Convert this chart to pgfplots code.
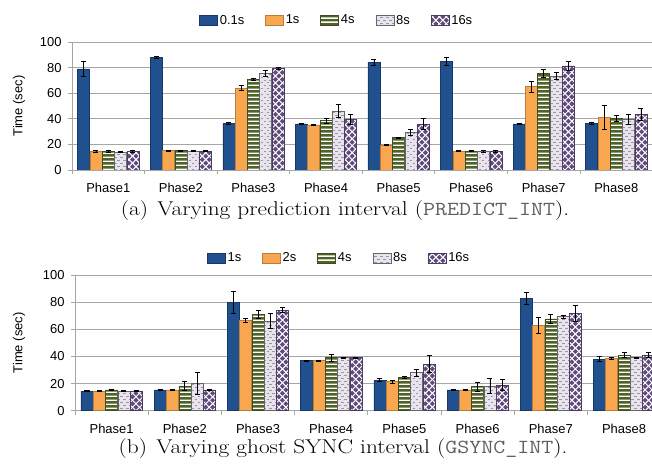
\documentclass[border=0pt]{standalone}
\usepackage{fontspec}
\usepackage{pgfplots}
\pgfplotsset{compat=1.18}
\usetikzlibrary{patterns}
\newfontfamily\arial{Liberation Sans}

\definecolor{cblue}{HTML}{21508F}
\definecolor{corange}{HTML}{F9A650}
\definecolor{cgreen}{HTML}{4F6228}
\definecolor{clav}{HTML}{E8E3EF}
\definecolor{cpurple}{HTML}{5F4A7B}
\definecolor{cgrid}{HTML}{A6A6A6}

\pgfdeclarepatternformonly{hstripes}{\pgfqpoint{0pt}{0pt}}{\pgfqpoint{10pt}{3.8pt}}{\pgfqpoint{10pt}{3.8pt}}{%
  \pgfsetlinewidth{1.3pt}\pgfpathmoveto{\pgfqpoint{0pt}{1.9pt}}\pgfpathlineto{\pgfqpoint{10pt}{1.9pt}}\pgfusepath{stroke}}
\pgfdeclarepatternformonly{diamonds}{\pgfqpoint{-1pt}{-1pt}}{\pgfqpoint{8pt}{8pt}}{\pgfqpoint{7pt}{7pt}}{%
  \pgfsetlinewidth{1pt}\pgfpathmoveto{\pgfqpoint{0pt}{0pt}}\pgfpathlineto{\pgfqpoint{7pt}{7pt}}%
  \pgfpathmoveto{\pgfqpoint{0pt}{7pt}}\pgfpathlineto{\pgfqpoint{7pt}{0pt}}\pgfusepath{stroke}}
\pgfdeclarepatternformonly{hdashes}{\pgfqpoint{-1pt}{-1pt}}{\pgfqpoint{7pt}{7pt}}{\pgfqpoint{6pt}{6pt}}{%
  \pgfsetlinewidth{0.9pt}\pgfpathmoveto{\pgfqpoint{0.5pt}{1.5pt}}\pgfpathlineto{\pgfqpoint{3pt}{1.5pt}}%
  \pgfpathmoveto{\pgfqpoint{3.5pt}{4.5pt}}\pgfpathlineto{\pgfqpoint{6pt}{4.5pt}}\pgfusepath{stroke}}

\pgfplotsset{
  mybase/.style={
    scale only axis, ybar=0.3bp, bar width=12bp,
    xmin=-0.5, xmax=7.5, ymin=0, ymax=100,
    ytick={0,20,...,100}, xtick={0,...,7},
    xticklabels={Phase1,Phase2,Phase3,Phase4,Phase5,Phase6,Phase7,Phase8},
    minor xtick={-0.5,0.5,...,7.5},
    axis x line*=bottom, axis y line*=left,
    axis line style={cgrid, line width=0.8bp},
    ymajorgrids, major grid style={cgrid, line width=0.8bp},
    tick align=outside, major tick length=4bp, minor tick length=4bp,
    major x tick style={draw=none}, minor x tick style={cgrid, line width=0.8bp},
    major y tick style={cgrid, line width=0.8bp},
    font=\arial\fontsize{13}{15}\selectfont,
    /pgf/number format/assume math mode=true,
    xticklabel style={yshift=-6bp},
    yticklabel style={xshift=-3bp},
    ylabel={Time (sec)},
    legend columns=5,
    legend style={draw=none, fill=none, anchor=center, font=\arial\fontsize{13}{15}\selectfont,
      /tikz/every even column/.append style={column sep=19bp}, nodes={inner sep=2bp}},
    legend image code/.code={\draw[##1] (0bp,-5bp) rectangle (18bp,5bp);},
    error bars/y dir=both, error bars/y explicit,
    error bars/error bar style={black, line width=0.8bp},
    error bars/error mark options={black, rotate=90, mark size=2.5bp, line width=0.8bp},
  },
  s1/.style={fill=cblue, draw=cblue!70!black, line width=0.5bp},
  s2/.style={fill=corange, draw=corange!75!black, line width=0.5bp},
  s3/.style={fill=cgreen, draw=cgreen!80!black, line width=0.5bp, postaction={pattern=hstripes, pattern color=white}},
  s4/.style={fill=clav, draw=gray!80!black, line width=0.5bp, postaction={pattern=hdashes, pattern color=gray!80}},
  s5/.style={fill=cpurple, draw=cpurple!80!black, line width=0.5bp, postaction={pattern=diamonds, pattern color=white}},
}

\begin{document}
\begin{tikzpicture}
% ---------- (a) ----------
\begin{axis}[mybase, at={(72bp,300bp)}, anchor=south west, width=580.6bp, height=128bp,
  ylabel style={at={(axis description cs:-0.0913,0.5)}, anchor=center},
  legend style={at={(axis description cs:0.456,1.17)}}]
\addplot[s1] coordinates {(0,79) +- (0,6) (1,88) +- (0,1) (2,36.5) +- (0,0.5) (3,36) +- (0,0.5)
  (4,84) +- (0,2.5) (5,84.6) +- (0,3) (6,36) +- (0,0.5) (7,36.5) +- (0,0.5)};
\addplot[s2] coordinates {(0,14.5) +- (0,0.5) (1,15.1) +- (0,0.5) (2,63.8) +- (0,2) (3,35.2) +- (0,0.5)
  (4,19.5) +- (0,0.5) (5,14.8) +- (0,0.5) (6,65.1) +- (0,4.3) (7,40.9) +- (0,9.5)};
\addplot[s3] coordinates {(0,14.5) +- (0,0.5) (1,15.1) +- (0,0.5) (2,70.8) +- (0,0.8) (3,38.5) +- (0,2)
  (4,25.3) +- (0,0.5) (5,14.8) +- (0,0.5) (6,75.5) +- (0,3) (7,40.1) +- (0,2.5)};
\addplot[s4] coordinates {(0,14) +- (0,0.5) (1,14.8) +- (0,0.5) (2,75.5) +- (0,2.5) (3,46.1) +- (0,5)
  (4,29.4) +- (0,2) (5,14.5) +- (0,0.5) (6,73.4) +- (0,2.5) (7,39.3) +- (0,4)};
\addplot[s5] coordinates {(0,14.5) +- (0,0.5) (1,14.8) +- (0,0.5) (2,79.4) +- (0,1) (3,39.8) +- (0,4)
  (4,35.7) +- (0,4.3) (5,14.5) +- (0,0.5) (6,81.3) +- (0,3.5) (7,43.5) +- (0,5)};
\legend{0.1s,1s,4s,8s,16s}
\end{axis}
% ---------- (b) ----------
\begin{axis}[mybase, at={(75bp,59.3bp)}, anchor=south west, width=585.6bp, height=135.7bp,
  ylabel style={at={(axis description cs:-0.0956,0.5)}, anchor=center},
  legend style={at={(axis description cs:0.451,1.125)}}]
\addplot[s1] coordinates {(0,14.5) +- (0,0.5) (1,15.3) +- (0,0.5) (2,79.6) +- (0,8.2) (3,36.9) +- (0,0.5)
  (4,22.6) +- (0,1) (5,15.3) +- (0,0.5) (6,82.8) +- (0,4.5) (7,37.9) +- (0,1.8)};
\addplot[s2] coordinates {(0,14.5) +- (0,0.5) (1,15.3) +- (0,0.5) (2,66.8) +- (0,1.5) (3,36.9) +- (0,0.5)
  (4,21.4) +- (0,1.2) (5,15.3) +- (0,0.5) (6,62.7) +- (0,5.8) (7,38.6) +- (0,0.5)};
\addplot[s3] coordinates {(0,15.3) +- (0,0.5) (1,18.2) +- (0,3.5) (2,71) +- (0,3) (3,39.1) +- (0,2.5)
  (4,24.6) +- (0,0.5) (5,17.7) +- (0,3.5) (6,67.6) +- (0,3) (7,41) +- (0,2)};
\addplot[s4] coordinates {(0,14.5) +- (0,0.5) (1,20.2) +- (0,8.3) (2,66.1) +- (0,5.4) (3,39.1) +- (0,0.5)
  (4,28) +- (0,2.5) (5,18.2) +- (0,5.8) (6,69.3) +- (0,1) (7,39.1) +- (0,0.5)};
\addplot[s5] coordinates {(0,14.5) +- (0,0.5) (1,15.3) +- (0,0.5) (2,74.2) +- (0,2) (3,39.1) +- (0,0.5)
  (4,34.4) +- (0,6) (5,18.9) +- (0,4) (6,71.8) +- (0,6) (7,41) +- (0,2)};
\legend{1s,2s,4s,8s,16s}
\end{axis}
% ---------- captions ----------
\node[anchor=base, font=\fontsize{20}{22}\selectfont, xscale=1.17] at (345bp,254bp)
  {(a)\hspace{0.4em}Varying prediction interval ({\color{gray!75!black}\texttt{PREDICT\_INT}}).};
\node[anchor=base, font=\fontsize{20}{22}\selectfont, xscale=1.17] at (343bp,17bp)
  {(b)\hspace{0.4em}Varying ghost SYNC interval ({\color{gray!75!black}\texttt{GSYNC\_INT}}).};
\pgfresetboundingbox
\path[use as bounding box] (0,0) rectangle (652bp,470bp);
\end{tikzpicture}
\end{document}
